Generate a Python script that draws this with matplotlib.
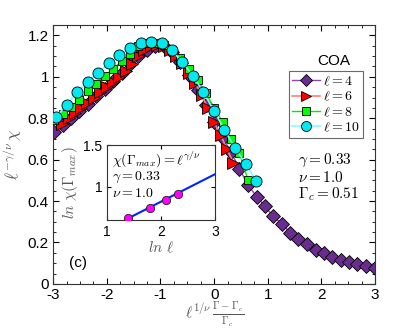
import matplotlib
matplotlib.use("Agg")
import matplotlib.pyplot as plt
from matplotlib.ticker import MultipleLocator, FormatStrFormatter

plt.rcParams['font.family'] = ['Liberation Sans', 'DejaVu Sans']
plt.rcParams['mathtext.fontset'] = 'cm'
plt.rcParams['axes.unicode_minus'] = False
plt.rcParams['font.size'] = 11

# scaled data (x = l^(1/nu) (G-Gc)/Gc, y = l^(-gamma/nu) chi)
x4 = [-2.98, -2.82, -2.67, -2.51, -2.35, -2.20, -2.04, -1.88, -1.72, -1.57,
      -1.41, -1.25, -1.10, -0.94, -0.78, -0.63, -0.47, -0.31, -0.15, 0.00,
      0.16, 0.32, 0.47, 0.63, 0.79, 0.95, 1.10, 1.26, 1.42, 1.57,
      1.73, 1.89, 2.04, 2.20, 2.36, 2.52, 2.67, 2.83, 2.99]
y4 = [0.735, 0.765, 0.800, 0.835, 0.870, 0.905, 0.940, 0.980, 1.020, 1.060,
      1.100, 1.130, 1.150, 1.150, 1.120, 1.070, 1.010, 0.935, 0.866, 0.780,
      0.705, 0.635, 0.555, 0.479, 0.422, 0.374, 0.326, 0.289, 0.248, 0.218,
      0.192, 0.164, 0.151, 0.129, 0.116, 0.106, 0.097, 0.087, 0.079]

x6 = [-2.83, -2.71, -2.59, -2.48, -2.36, -2.24, -2.12, -2.00, -1.89, -1.77,
      -1.65, -1.53, -1.41, -1.30, -1.18, -1.06, -0.94, -0.82, -0.71, -0.59,
      -0.47, -0.35, -0.23, -0.12, 0.00, 0.12, 0.24, 0.36]
y6 = [0.770, 0.800, 0.825, 0.850, 0.875, 0.900, 0.925, 0.950, 0.975, 1.000,
      1.030, 1.060, 1.100, 1.130, 1.150, 1.155, 1.150, 1.130, 1.100, 1.065,
      1.020, 0.970, 0.910, 0.850, 0.780, 0.720, 0.650, 0.585]

x8 = [-2.98, -2.82, -2.67, -2.51, -2.35, -2.20, -2.04, -1.88, -1.72, -1.57,
      -1.41, -1.25, -1.10, -0.94, -0.78, -0.63, -0.47, -0.31, -0.15, 0.00,
      0.16, 0.32, 0.47, 0.63]
y8 = [0.790, 0.820, 0.855, 0.890, 0.930, 0.965, 1.005, 1.040, 1.075, 1.110,
      1.150, 1.165, 1.165, 1.155, 1.130, 1.090, 1.040, 0.985, 0.920, 0.850,
      0.780, 0.700, 0.632, 0.503]

x10 = [-2.94, -2.75, -2.55, -2.35, -2.16, -1.96, -1.77, -1.57, -1.37, -1.18,
       -0.98, -0.79, -0.59, -0.39, -0.20, 0.00, 0.19, 0.39, 0.59, 0.78]
y10 = [0.805, 0.866, 0.926, 0.974, 1.019, 1.065, 1.103, 1.140, 1.164, 1.169,
       1.161, 1.127, 1.071, 1.003, 0.926, 0.834, 0.745, 0.656, 0.579, 0.498]

# inset: ln chi(Gamma_max) vs ln l
ln_l = [1.386, 1.792, 2.079, 2.303]
ln_chi = [0.62, 0.74, 0.84, 0.91]
fit_x = [1.386, 3.0]
fit_y = [0.62, 1.153]

fig = plt.figure(figsize=(4.15, 3.29), dpi=100)
ax = fig.add_axes([0.128, 0.137, 0.776, 0.787])

ax.plot(x4, y4, '-D', color='#8a4bb0', mfc='#6a2c8e', mec='black', mew=0.6,
        ms=7, lw=1, label=r'$\ell=4$', zorder=2)
ax.plot(x6, y6, '->', color='#ff7f7f', mfc='red', mec='black', mew=0.6,
        ms=8, lw=1.2, label=r'$\ell=6$', zorder=3)
ax.plot(x8, y8, '-s', color='#00ee00', mfc='#00ff00', mec='black', mew=0.6,
        ms=6, lw=1, label=r'$\ell=8$', zorder=4)
ax.plot(x10, y10, '-o', color='#80ffff', mfc='#00e8f0', mec='black', mew=0.6,
        ms=8, lw=1.2, label=r'$\ell=10$', zorder=5)

ax.set_xlim(-3, 3)
ax.set_ylim(0, 1.25)
ax.xaxis.set_major_locator(MultipleLocator(1))
ax.xaxis.set_minor_locator(MultipleLocator(0.25))
ax.yaxis.set_minor_locator(MultipleLocator(0.05))
ax.set_yticks([0, 0.2, 0.4, 0.6, 0.8, 1.0, 1.2])
ax.set_yticklabels(['0', '0.2', '0.4', '0.6', '0.8', '1', '1.2'])
ax.tick_params(which='both', direction='in', top=True, right=True)
ax.tick_params(which='major', length=4, pad=3)
ax.tick_params(which='minor', length=2)
for s in ax.spines.values():
    s.set_linewidth(0.8)
    s.set_color('#333333')

ax.set_xlabel(r'$\ell^{1/\nu}\,\frac{\Gamma-\Gamma_c}{\Gamma_c}$', fontsize=11,
              color='#555555', labelpad=-1)
ax.set_ylabel(r'$\ell^{-\gamma/\nu}\,\chi$', fontsize=12, color='#555555',
              labelpad=3)

leg = ax.legend(loc='upper right', bbox_to_anchor=(0.962, 0.824),
                borderaxespad=0, fontsize=10, frameon=True, fancybox=False,
                handlelength=2.0, borderpad=0.25, labelspacing=0.1,
                handletextpad=0.2, markerscale=0.9)
leg.get_frame().set_edgecolor('#444444')
leg.get_frame().set_linewidth(0.8)
ax.text(0.87, 0.86, 'COA', transform=ax.transAxes, ha='center', va='center',
        fontsize=11)
ax.text(0.76, 0.51, '$\\gamma=0.33$\n$\\nu=1.0$\n$\\Gamma_c=0.51$',
        transform=ax.transAxes, ha='left', va='top', fontsize=11,
        linespacing=1.05)
ax.text(0.05, 0.065, '(c)', transform=ax.transAxes, fontsize=11)

# inset
ins = fig.add_axes([0.258, 0.331, 0.261, 0.228])
ins.plot(fit_x, fit_y, '-', color='#0022ff', lw=1.5, zorder=2)
ins.plot(ln_l, ln_chi, 'o', mfc='#ff00ff', mec='#222222', mew=0.6, ms=6,
         zorder=3)
ins.set_xlim(1, 3)
ins.set_ylim(0.6, 1.5)
ins.set_xticks([1, 2, 3])
ins.set_yticks([1, 1.5])
ins.yaxis.set_major_formatter(FormatStrFormatter('%g'))
ins.tick_params(direction='in', labelsize=10, length=3, top=True, right=True)
for s in ins.spines.values():
    s.set_linewidth(0.8)
    s.set_color('#333333')
ins.set_xlabel(r'$ln\ \ell$', fontsize=11, color='#555555', labelpad=1)
ins.set_ylabel(r'$ln\ \chi(\Gamma_{max})$', fontsize=11, color='#555555',
               labelpad=2)
ins.text(0.05, 0.95, '$\\chi(\\Gamma_{max})=\\ell^{\\gamma/\\nu}$\n'
         '$\\gamma=0.33$\n$\\nu=1.0$', transform=ins.transAxes, ha='left',
         va='top', fontsize=10, linespacing=1.05)

fig.savefig('out.png', dpi=100)
plt.close(fig)
